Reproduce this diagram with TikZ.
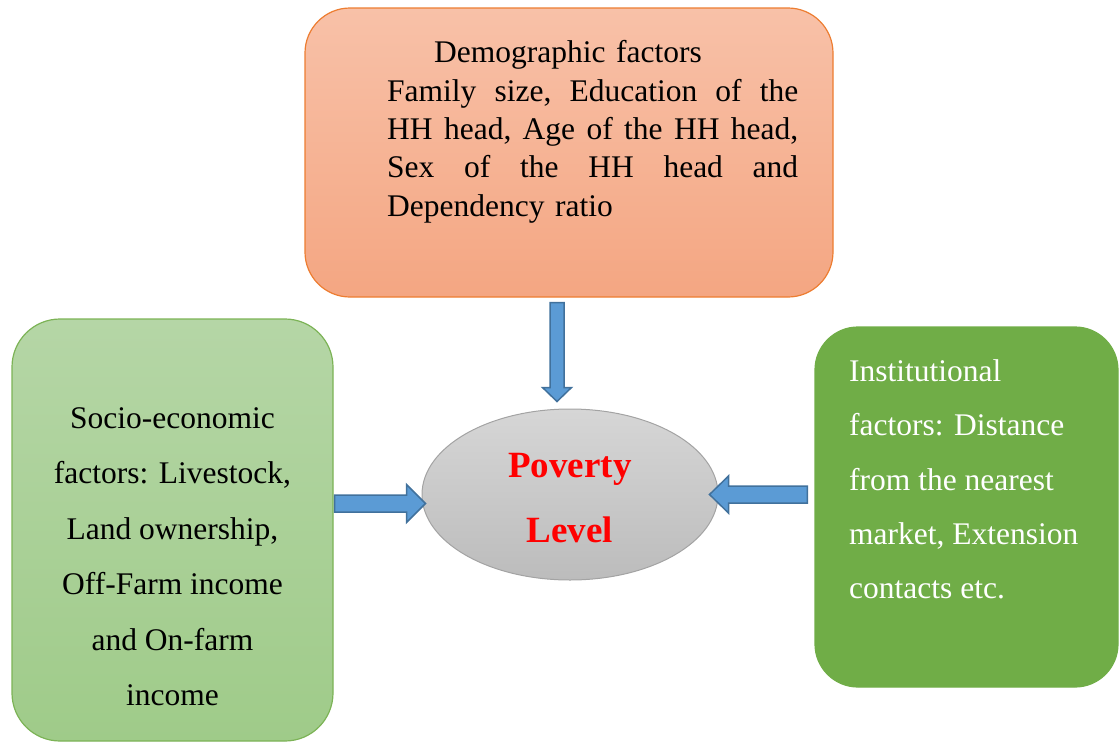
\documentclass[tikz,border=0pt]{standalone}
\usepackage{fontspec}
\setmainfont{Liberation Serif}
\usetikzlibrary{calc,shapes.geometric}

\definecolor{demoTop}{HTML}{F8C1A8}
\definecolor{demoBot}{HTML}{F4A682}
\definecolor{demoLine}{HTML}{ED7D31}
\definecolor{socTop}{HTML}{B5D6A6}
\definecolor{socBot}{HTML}{9FCB89}
\definecolor{socLine}{HTML}{7CB356}
\definecolor{instFill}{HTML}{70AD47}
\definecolor{povTop}{HTML}{D6D6D6}
\definecolor{povBot}{HTML}{BCBCBC}
\definecolor{povLine}{HTML}{A3A3A3}
\definecolor{arrFill}{HTML}{5B9BD5}
\definecolor{arrLine}{HTML}{41719C}

% block arrow from #1 to #2: shaft half width #3, head half width #4, head length #5
\newcommand\blockarrow[5]{%
  \path ($(#2)!#5!(#1)$) coordinate (#1-#2-base);
  \draw[barrow] ($(#1)!#3!90:(#2)$) -- ($(#1-#2-base)!#3!90:(#2)$)
    -- ($(#1-#2-base)!#4!90:(#2)$) -- (#2)
    -- ($(#1-#2-base)!#4!-90:(#2)$) -- ($(#1-#2-base)!#3!-90:(#2)$)
    -- ($(#1)!#3!-90:(#2)$) -- cycle;}

% one justified line of the given width
\newcommand\fullline[1]{\makebox[411pt][l]{#1}}

\begin{document}
\begin{tikzpicture}[x=1pt,y=-1pt,
  factorbox/.style={draw, line width=1.2pt, rounded corners=45pt, inner sep=0pt},
  bodytext/.style={inner sep=0pt, font=\fontsize{31.5}{55.4}\selectfont},
  barrow/.style={fill=arrFill, draw=arrLine, line width=1.5pt, line join=miter}]
\useasboundingbox (0,0) rectangle (1120,742);

% factor boxes
\node[factorbox, draw=demoLine, top color=demoTop, bottom color=demoBot,
      minimum width=528pt, minimum height=289pt] (demo) at (569,152.5) {};
\node[factorbox, draw=socLine, top color=socTop, bottom color=socBot,
      rounded corners=48pt, minimum width=321pt, minimum height=422pt] (soc) at (172.5,530) {};
\node[factorbox, draw=instFill, fill=instFill,
      rounded corners=43pt, minimum width=303pt, minimum height=360pt] (inst) at (966.5,507) {};

% central outcome
\node[ellipse, draw=povLine, line width=1pt, top color=povTop, bottom color=povBot,
      minimum width=296pt, minimum height=171pt, inner sep=0pt] (pov) at (570,494.5) {};

% texts
\node[inner sep=0pt, anchor=north west, text width=411pt, align=left,
      font=\fontsize{31.5}{38.3}\selectfont] (demotext) at (387,40.5)
  {\hspace*{47pt}Demographic factors\\
   \fullline{Family\hfill size,\hfill Education\hfill of\hfill the}\\
   \fullline{HH\hfill head,\hfill Age\hfill of\hfill the\hfill HH\hfill head,}\\
   \fullline{Sex\hfill of\hfill the\hfill HH\hfill head\hfill and}\\
   Dependency ratio};
\node[bodytext, anchor=north, align=center] (soctext) at (172.5,407.5)
  {Socio-economic\\ factors: Livestock,\\ Land ownership,\\ Off-Farm income\\ and On-farm\\ income};
\node[bodytext, anchor=north west, align=left, text=white,
      font=\fontsize{31.5}{54.3}\selectfont] (insttext) at (849,359.5)
  {Institutional\\ factors: Distance\\ from the nearest\\ market, Extension\\ contacts etc.};
\node[inner sep=0pt, anchor=north, align=center, text=red,
      font=\fontsize{37}{65}\selectfont\bfseries] (povtext) at (570,453)
  {Poverty\\ Level};

% connectors
\coordinate (dA) at ($(demo.south)+(-12,5)$);
\coordinate (dB) at ($(pov.north)+(-13,-7)$);
\coordinate (sA) at ($(soc.east)+(1,-26.5)$);
\coordinate (sB) at ($(pov.west)+(4,9)$);
\coordinate (iA) at ($(inst.west)+(-7,-12.5)$);
\coordinate (iB) at ($(pov.east)+(-9,0)$);
\blockarrow{dA}{dB}{7pt}{14.5pt}{14pt}
\blockarrow{sA}{sB}{8.5pt}{19pt}{19pt}
\blockarrow{iA}{iB}{8.5pt}{18.5pt}{19pt}
\end{tikzpicture}
\end{document}
